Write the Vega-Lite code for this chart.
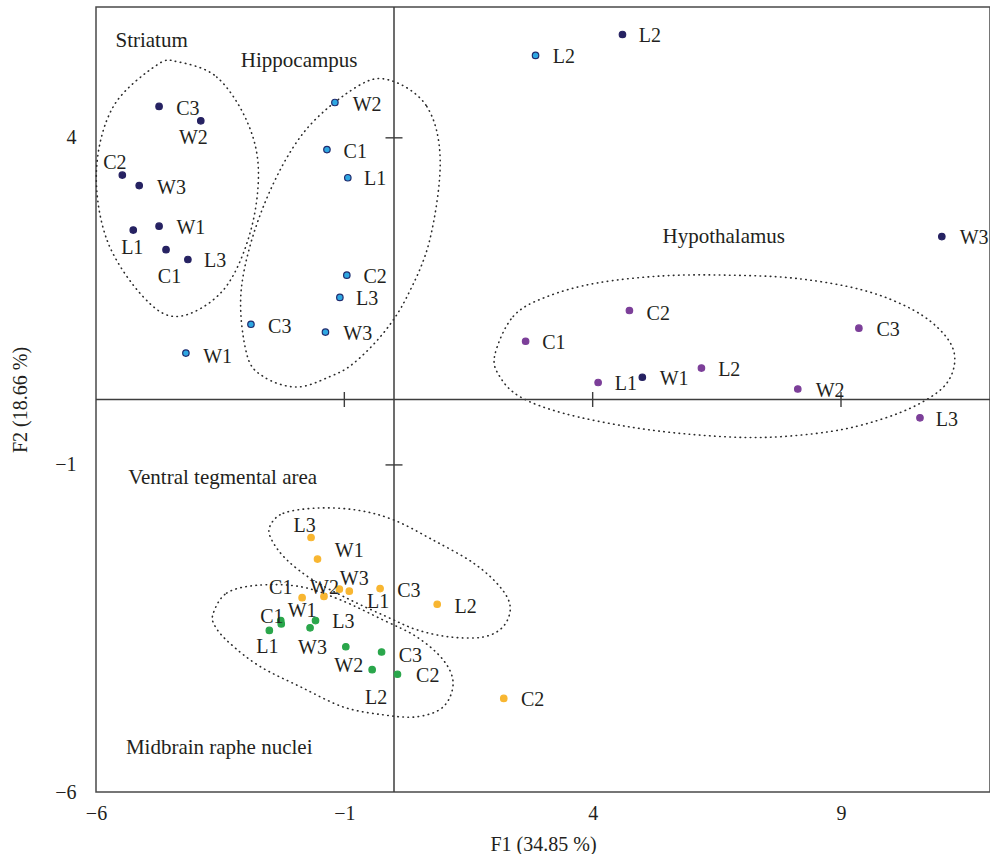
{
  "$schema": "https://vega.github.io/schema/vega-lite/v6.json",
  "width": 894,
  "height": 785,
  "autosize": {"type": "none"},
  "padding": {"left": 96, "top": 7, "right": 0, "bottom": 62},
  "background": "white",
  "config": {
    "view": {"stroke": "#4a4a4a", "strokeWidth": 1.5},
    "axis": {"domain": false, "ticks": false, "tickSize": 0, "grid": false, "labelFlush": false, "labelFont": "Liberation Serif", "labelFontSize": 20, "labelColor": "#231f20", "titleFont": "Liberation Serif", "titleFontSize": 20, "titleFontWeight": "normal", "titleColor": "#231f20"},
    "axisX": {"labelPadding": 11, "titlePadding": 11},
    "axisY": {"labelPadding": 20, "titlePadding": 24}
  },
  "datasets": {
    "points": [
      {"region": "Striatum", "cluster": "Striatum", "sample": "C3", "f1": -4.73, "f2": 4.48, "lx": -4.15, "ly": 4.44},
      {"region": "Striatum", "cluster": "Striatum", "sample": "W2", "f1": -3.89, "f2": 4.26, "lx": -4.04, "ly": 3.99},
      {"region": "Striatum", "cluster": "Striatum", "sample": "C2", "f1": -5.47, "f2": 3.43, "lx": -5.62, "ly": 3.61},
      {"region": "Striatum", "cluster": "Striatum", "sample": "W3", "f1": -5.13, "f2": 3.27, "lx": -4.48, "ly": 3.24},
      {"region": "Striatum", "cluster": "Striatum", "sample": "W1", "f1": -4.73, "f2": 2.65, "lx": -4.09, "ly": 2.62},
      {"region": "Striatum", "cluster": "Striatum", "sample": "L1", "f1": -5.25, "f2": 2.59, "lx": -5.27, "ly": 2.32},
      {"region": "Striatum", "cluster": "Striatum", "sample": "C1", "f1": -4.59, "f2": 2.29, "lx": -4.52, "ly": 1.88},
      {"region": "Striatum", "cluster": "Striatum", "sample": "L3", "f1": -4.15, "f2": 2.14, "lx": -3.60, "ly": 2.11},
      {"region": "Striatum", "cluster": "Striatum", "sample": "L2", "f1": 4.60, "f2": 5.58, "lx": 5.15, "ly": 5.55},
      {"region": "Hippocampus", "cluster": "Hippocampus", "sample": "W2", "f1": -1.19, "f2": 4.54, "lx": -0.54, "ly": 4.50},
      {"region": "Hippocampus", "cluster": "Hippocampus", "sample": "C1", "f1": -1.35, "f2": 3.82, "lx": -0.78, "ly": 3.79},
      {"region": "Hippocampus", "cluster": "Hippocampus", "sample": "L1", "f1": -0.93, "f2": 3.39, "lx": -0.38, "ly": 3.37},
      {"region": "Hippocampus", "cluster": "Hippocampus", "sample": "C2", "f1": -0.95, "f2": 1.90, "lx": -0.38, "ly": 1.87},
      {"region": "Hippocampus", "cluster": "Hippocampus", "sample": "L3", "f1": -1.09, "f2": 1.56, "lx": -0.54, "ly": 1.54},
      {"region": "Hippocampus", "cluster": "Hippocampus", "sample": "W3", "f1": -1.38, "f2": 1.03, "lx": -0.73, "ly": 1.00},
      {"region": "Hippocampus", "cluster": "Hippocampus", "sample": "C3", "f1": -2.88, "f2": 1.15, "lx": -2.30, "ly": 1.11},
      {"region": "Hippocampus", "cluster": "Hippocampus", "sample": "W1", "f1": -4.19, "f2": 0.71, "lx": -3.55, "ly": 0.65},
      {"region": "Hippocampus", "cluster": "Hippocampus", "sample": "L2", "f1": 2.85, "f2": 5.26, "lx": 3.42, "ly": 5.23},
      {"region": "Hypothalamus", "cluster": "Hypothalamus", "sample": "C2", "f1": 4.74, "f2": 1.36, "lx": 5.32, "ly": 1.31},
      {"region": "Hypothalamus", "cluster": "Hypothalamus", "sample": "C1", "f1": 2.65, "f2": 0.89, "lx": 3.22, "ly": 0.86},
      {"region": "Hypothalamus", "cluster": "Hypothalamus", "sample": "C3", "f1": 9.36, "f2": 1.09, "lx": 9.95, "ly": 1.06},
      {"region": "Hypothalamus", "cluster": "Hypothalamus", "sample": "L2", "f1": 6.19, "f2": 0.48, "lx": 6.75, "ly": 0.45},
      {"region": "Hypothalamus", "cluster": "Hypothalamus", "sample": "L1", "f1": 4.11, "f2": 0.26, "lx": 4.67, "ly": 0.24},
      {"region": "Hypothalamus", "cluster": "Hypothalamus", "sample": "W2", "f1": 8.13, "f2": 0.16, "lx": 8.78, "ly": 0.13},
      {"region": "Hypothalamus", "cluster": "Hypothalamus", "sample": "L3", "f1": 10.59, "f2": -0.28, "lx": 11.13, "ly": -0.31},
      {"region": "Hypothalamus", "cluster": "Hypothalamus (dark)", "sample": "W1", "f1": 5.00, "f2": 0.34, "lx": 5.64, "ly": 0.32},
      {"region": "Hypothalamus", "cluster": "Hypothalamus (dark)", "sample": "W3", "f1": 11.03, "f2": 2.49, "lx": 11.68, "ly": 2.47},
      {"region": "Ventral tegmental area", "cluster": "Ventral tegmental area", "sample": "L3", "f1": -1.67, "f2": -2.11, "lx": -1.80, "ly": -1.93},
      {"region": "Ventral tegmental area", "cluster": "Ventral tegmental area", "sample": "W1", "f1": -1.54, "f2": -2.44, "lx": -0.90, "ly": -2.31},
      {"region": "Ventral tegmental area", "cluster": "Ventral tegmental area", "sample": "C1", "f1": -1.85, "f2": -3.03, "lx": -2.28, "ly": -2.88},
      {"region": "Ventral tegmental area", "cluster": "Ventral tegmental area", "sample": "W2", "f1": -1.41, "f2": -3.01, "lx": -1.40, "ly": -2.88},
      {"region": "Ventral tegmental area", "cluster": "Ventral tegmental area", "sample": "L1", "f1": -1.10, "f2": -2.90, "lx": -0.32, "ly": -3.09},
      {"region": "Ventral tegmental area", "cluster": "Ventral tegmental area", "sample": "W3", "f1": -0.90, "f2": -2.93, "lx": -0.80, "ly": -2.75},
      {"region": "Ventral tegmental area", "cluster": "Ventral tegmental area", "sample": "C3", "f1": -0.28, "f2": -2.89, "lx": 0.30, "ly": -2.92},
      {"region": "Ventral tegmental area", "cluster": "Ventral tegmental area", "sample": "L2", "f1": 0.87, "f2": -3.13, "lx": 1.44, "ly": -3.17},
      {"region": "Ventral tegmental area", "cluster": "Ventral tegmental area", "sample": "C2", "f1": 2.21, "f2": -4.57, "lx": 2.79, "ly": -4.59},
      {"region": "Midbrain raphe nuclei", "cluster": "Midbrain raphe nuclei", "sample": "L1", "f1": -2.51, "f2": -3.53, "lx": -2.55, "ly": -3.78},
      {"region": "Midbrain raphe nuclei", "cluster": "Midbrain raphe nuclei", "sample": "C1", "f1": -2.28, "f2": -3.38, "lx": -2.46, "ly": -3.32},
      {"region": "Midbrain raphe nuclei", "cluster": "Midbrain raphe nuclei", "sample": "W1", "f1": -2.27, "f2": -3.43, "lx": -1.85, "ly": -3.24},
      {"region": "Midbrain raphe nuclei", "cluster": "Midbrain raphe nuclei", "sample": "L3", "f1": -1.58, "f2": -3.38, "lx": -1.02, "ly": -3.40},
      {"region": "Midbrain raphe nuclei", "cluster": "Midbrain raphe nuclei", "sample": "W3", "f1": -1.69, "f2": -3.49, "lx": -1.64, "ly": -3.80},
      {"region": "Midbrain raphe nuclei", "cluster": "Midbrain raphe nuclei", "sample": "W2", "f1": -0.97, "f2": -3.78, "lx": -0.91, "ly": -4.08},
      {"region": "Midbrain raphe nuclei", "cluster": "Midbrain raphe nuclei", "sample": "C3", "f1": -0.25, "f2": -3.86, "lx": 0.33, "ly": -3.92},
      {"region": "Midbrain raphe nuclei", "cluster": "Midbrain raphe nuclei", "sample": "L2", "f1": -0.44, "f2": -4.13, "lx": -0.36, "ly": -4.56},
      {"region": "Midbrain raphe nuclei", "cluster": "Midbrain raphe nuclei", "sample": "C2", "f1": 0.07, "f2": -4.20, "lx": 0.68, "ly": -4.23}
    ],
    "ellipses": [
      {"e": "Striatum", "i": 1, "ex": -4.34, "ey": 5.16},
      {"e": "Striatum", "i": 2, "ex": -3.57, "ey": 4.93},
      {"e": "Striatum", "i": 3, "ex": -2.97, "ey": 4.27},
      {"e": "Striatum", "i": 4, "ex": -2.73, "ey": 3.51},
      {"e": "Striatum", "i": 5, "ex": -2.90, "ey": 2.54},
      {"e": "Striatum", "i": 6, "ex": -3.44, "ey": 1.67},
      {"e": "Striatum", "i": 7, "ex": -4.34, "ey": 1.27},
      {"e": "Striatum", "i": 8, "ex": -5.05, "ey": 1.57},
      {"e": "Striatum", "i": 9, "ex": -5.78, "ey": 2.44},
      {"e": "Striatum", "i": 10, "ex": -5.99, "ey": 3.51},
      {"e": "Striatum", "i": 11, "ex": -5.65, "ey": 4.48},
      {"e": "Striatum", "i": 12, "ex": -4.78, "ey": 5.11},
      {"e": "Hippocampus", "i": 1, "ex": -0.08, "ey": 4.88},
      {"e": "Hippocampus", "i": 2, "ex": 0.66, "ey": 4.48},
      {"e": "Hippocampus", "i": 3, "ex": 0.93, "ey": 3.66},
      {"e": "Hippocampus", "i": 4, "ex": 0.72, "ey": 2.44},
      {"e": "Hippocampus", "i": 5, "ex": 0.26, "ey": 1.57},
      {"e": "Hippocampus", "i": 6, "ex": -0.22, "ey": 1.01},
      {"e": "Hippocampus", "i": 7, "ex": -0.82, "ey": 0.55},
      {"e": "Hippocampus", "i": 8, "ex": -1.29, "ey": 0.35},
      {"e": "Hippocampus", "i": 9, "ex": -1.96, "ey": 0.19},
      {"e": "Hippocampus", "i": 10, "ex": -2.63, "ey": 0.35},
      {"e": "Hippocampus", "i": 11, "ex": -2.97, "ey": 0.71},
      {"e": "Hippocampus", "i": 12, "ex": -3.07, "ey": 1.72},
      {"e": "Hippocampus", "i": 13, "ex": -2.63, "ey": 2.95},
      {"e": "Hippocampus", "i": 14, "ex": -1.83, "ey": 4.07},
      {"e": "Hippocampus", "i": 15, "ex": -0.75, "ey": 4.78},
      {"e": "Hypothalamus", "i": 1, "ex": 2.03, "ey": 0.68},
      {"e": "Hypothalamus", "i": 2, "ex": 2.40, "ey": 1.27},
      {"e": "Hypothalamus", "i": 3, "ex": 3.07, "ey": 1.57},
      {"e": "Hypothalamus", "i": 4, "ex": 4.08, "ey": 1.78},
      {"e": "Hypothalamus", "i": 5, "ex": 5.42, "ey": 1.89},
      {"e": "Hypothalamus", "i": 6, "ex": 6.76, "ey": 1.90},
      {"e": "Hypothalamus", "i": 7, "ex": 8.11, "ey": 1.85},
      {"e": "Hypothalamus", "i": 8, "ex": 9.45, "ey": 1.67},
      {"e": "Hypothalamus", "i": 9, "ex": 10.45, "ey": 1.37},
      {"e": "Hypothalamus", "i": 10, "ex": 11.06, "ey": 1.01},
      {"e": "Hypothalamus", "i": 11, "ex": 11.29, "ey": 0.65},
      {"e": "Hypothalamus", "i": 12, "ex": 11.13, "ey": 0.25},
      {"e": "Hypothalamus", "i": 13, "ex": 10.59, "ey": -0.06},
      {"e": "Hypothalamus", "i": 14, "ex": 9.78, "ey": -0.31},
      {"e": "Hypothalamus", "i": 15, "ex": 8.78, "ey": -0.49},
      {"e": "Hypothalamus", "i": 16, "ex": 7.43, "ey": -0.58},
      {"e": "Hypothalamus", "i": 17, "ex": 6.09, "ey": -0.54},
      {"e": "Hypothalamus", "i": 18, "ex": 4.75, "ey": -0.42},
      {"e": "Hypothalamus", "i": 19, "ex": 3.41, "ey": -0.21},
      {"e": "Hypothalamus", "i": 20, "ex": 2.54, "ey": 0.04},
      {"e": "Hypothalamus", "i": 21, "ex": 2.13, "ey": 0.35},
      {"e": "Ventral tegmental area", "i": 1, "ex": -2.50, "ey": -1.94},
      {"e": "Ventral tegmental area", "i": 2, "ex": -2.23, "ey": -1.74},
      {"e": "Ventral tegmental area", "i": 3, "ex": -1.56, "ey": -1.66},
      {"e": "Ventral tegmental area", "i": 4, "ex": -0.75, "ey": -1.69},
      {"e": "Ventral tegmental area", "i": 5, "ex": -0.01, "ey": -1.84},
      {"e": "Ventral tegmental area", "i": 6, "ex": 0.79, "ey": -2.15},
      {"e": "Ventral tegmental area", "i": 7, "ex": 1.60, "ey": -2.50},
      {"e": "Ventral tegmental area", "i": 8, "ex": 2.13, "ey": -2.86},
      {"e": "Ventral tegmental area", "i": 9, "ex": 2.34, "ey": -3.17},
      {"e": "Ventral tegmental area", "i": 10, "ex": 2.20, "ey": -3.47},
      {"e": "Ventral tegmental area", "i": 11, "ex": 1.80, "ey": -3.63},
      {"e": "Ventral tegmental area", "i": 12, "ex": 1.13, "ey": -3.63},
      {"e": "Ventral tegmental area", "i": 13, "ex": 0.46, "ey": -3.52},
      {"e": "Ventral tegmental area", "i": 14, "ex": -0.15, "ey": -3.32},
      {"e": "Ventral tegmental area", "i": 15, "ex": -0.89, "ey": -3.06},
      {"e": "Ventral tegmental area", "i": 16, "ex": -1.63, "ey": -2.76},
      {"e": "Ventral tegmental area", "i": 17, "ex": -2.16, "ey": -2.45},
      {"e": "Ventral tegmental area", "i": 18, "ex": -2.46, "ey": -2.15},
      {"e": "Midbrain raphe nuclei", "i": 1, "ex": -3.64, "ey": -3.27},
      {"e": "Midbrain raphe nuclei", "i": 2, "ex": -3.37, "ey": -2.96},
      {"e": "Midbrain raphe nuclei", "i": 3, "ex": -2.76, "ey": -2.84},
      {"e": "Midbrain raphe nuclei", "i": 4, "ex": -1.89, "ey": -2.86},
      {"e": "Midbrain raphe nuclei", "i": 5, "ex": -1.09, "ey": -3.06},
      {"e": "Midbrain raphe nuclei", "i": 6, "ex": -0.22, "ey": -3.37},
      {"e": "Midbrain raphe nuclei", "i": 7, "ex": 0.46, "ey": -3.63},
      {"e": "Midbrain raphe nuclei", "i": 8, "ex": 0.99, "ey": -3.98},
      {"e": "Midbrain raphe nuclei", "i": 9, "ex": 1.19, "ey": -4.34},
      {"e": "Midbrain raphe nuclei", "i": 10, "ex": 0.99, "ey": -4.70},
      {"e": "Midbrain raphe nuclei", "i": 11, "ex": 0.46, "ey": -4.85},
      {"e": "Midbrain raphe nuclei", "i": 12, "ex": -0.22, "ey": -4.82},
      {"e": "Midbrain raphe nuclei", "i": 13, "ex": -1.02, "ey": -4.70},
      {"e": "Midbrain raphe nuclei", "i": 14, "ex": -1.89, "ey": -4.39},
      {"e": "Midbrain raphe nuclei", "i": 15, "ex": -2.70, "ey": -4.08},
      {"e": "Midbrain raphe nuclei", "i": 16, "ex": -3.30, "ey": -3.73},
      {"e": "Midbrain raphe nuclei", "i": 17, "ex": -3.60, "ey": -3.47}
    ],
    "regions": [
      {"name": "Striatum", "tx": -4.88, "ty": 5.48},
      {"name": "Hippocampus", "tx": -1.91, "ty": 5.18},
      {"name": "Hypothalamus", "tx": 6.64, "ty": 2.49},
      {"name": "Ventral tegmental area", "tx": -3.45, "ty": -1.20},
      {"name": "Midbrain raphe nuclei", "tx": -3.52, "ty": -5.32}
    ],
    "origin": [{"v": 0}],
    "xticks": [{"v": -1}, {"v": 4}, {"v": 9}],
    "yticks": [{"v": 4}, {"v": -1}]
  },
  "layer": [
    {
      "data": {"name": "points"},
      "mark": {"type": "point", "opacity": 0, "size": 1},
      "encoding": {
        "x": {"field": "f1", "type": "quantitative", "title": "F1 (34.85 %)", "scale": {"domain": [-6, 12], "nice": false, "zero": false}, "axis": {"values": [-6, -1, 4, 9], "format": "d", "labelFlush": false}},
        "y": {"field": "f2", "type": "quantitative", "title": "F2 (18.66 %)", "scale": {"domain": [-6, 6], "nice": false, "zero": false}, "axis": {"values": [-6, -1, 4], "format": "d", "labelFlush": false}}
      }
    },
    {
      "data": {"name": "ellipses"},
      "mark": {"type": "line", "interpolate": "cardinal-closed", "strokeDash": [0.5, 4.6], "strokeWidth": 1.6, "strokeCap": "round", "color": "#2a2a2a"},
      "encoding": {
        "x": {"field": "ex", "type": "quantitative", "title": "F1 (34.85 %)", "scale": {"domain": [-6, 12], "nice": false, "zero": false}},
        "y": {"field": "ey", "type": "quantitative", "title": "F2 (18.66 %)", "scale": {"domain": [-6, 6], "nice": false, "zero": false}},
        "detail": {"field": "e"},
        "order": {"field": "i", "type": "quantitative"}
      }
    },
    {
      "data": {"name": "origin"},
      "mark": {"type": "rule", "color": "#3d3d3d", "strokeWidth": 1.5},
      "encoding": {"x": {"field": "v", "type": "quantitative", "title": "F1 (34.85 %)", "scale": {"domain": [-6, 12], "nice": false, "zero": false}}}
    },
    {
      "data": {"name": "origin"},
      "mark": {"type": "rule", "color": "#3d3d3d", "strokeWidth": 1.5},
      "encoding": {"y": {"field": "v", "type": "quantitative", "title": "F2 (18.66 %)", "scale": {"domain": [-6, 6], "nice": false, "zero": false}}}
    },
    {
      "data": {"name": "xticks"},
      "mark": {"type": "tick", "orient": "vertical", "size": 15, "thickness": 1.4, "color": "#3d3d3d", "opacity": 1},
      "encoding": {
        "x": {"field": "v", "type": "quantitative", "title": "F1 (34.85 %)", "scale": {"domain": [-6, 12], "nice": false, "zero": false}},
        "y": {"datum": 0}
      }
    },
    {
      "data": {"name": "yticks"},
      "mark": {"type": "tick", "orient": "horizontal", "size": 17, "thickness": 1.4, "color": "#3d3d3d", "opacity": 1},
      "encoding": {
        "y": {"field": "v", "type": "quantitative", "title": "F2 (18.66 %)", "scale": {"domain": [-6, 6], "nice": false, "zero": false}},
        "x": {"datum": 0}
      }
    },
    {
      "data": {"name": "points"},
      "mark": {"type": "point", "filled": true, "size": 42, "opacity": 1, "strokeWidth": 1.2},
      "encoding": {
        "x": {"field": "f1", "type": "quantitative", "title": "F1 (34.85 %)", "scale": {"domain": [-6, 12], "nice": false, "zero": false}},
        "y": {"field": "f2", "type": "quantitative", "title": "F2 (18.66 %)", "scale": {"domain": [-6, 6], "nice": false, "zero": false}},
        "fill": {"field": "cluster", "type": "nominal", "legend": null, "scale": {"domain": ["Striatum", "Hippocampus", "Hypothalamus", "Hypothalamus (dark)", "Ventral tegmental area", "Midbrain raphe nuclei"], "range": ["#262262", "#2ea7e2", "#7c3f99", "#262262", "#f8b631", "#2aa64b"]}},
        "stroke": {"field": "cluster", "type": "nominal", "legend": null, "scale": {"domain": ["Striatum", "Hippocampus", "Hypothalamus", "Hypothalamus (dark)", "Ventral tegmental area", "Midbrain raphe nuclei"], "range": ["#262262", "#1f2b6e", "#7c3f99", "#262262", "#f8b631", "#2aa64b"]}}
      }
    },
    {
      "data": {"name": "points"},
      "mark": {"type": "text", "font": "Liberation Serif", "fontSize": 20, "color": "#231f20", "align": "center", "baseline": "middle"},
      "encoding": {
        "x": {"field": "lx", "type": "quantitative", "title": "F1 (34.85 %)", "scale": {"domain": [-6, 12], "nice": false, "zero": false}},
        "y": {"field": "ly", "type": "quantitative", "title": "F2 (18.66 %)", "scale": {"domain": [-6, 6], "nice": false, "zero": false}},
        "text": {"field": "sample"}
      }
    },
    {
      "data": {"name": "regions"},
      "mark": {"type": "text", "font": "Liberation Serif", "fontSize": 21, "color": "#231f20", "align": "center", "baseline": "middle"},
      "encoding": {
        "x": {"field": "tx", "type": "quantitative", "title": "F1 (34.85 %)", "scale": {"domain": [-6, 12], "nice": false, "zero": false}},
        "y": {"field": "ty", "type": "quantitative", "title": "F2 (18.66 %)", "scale": {"domain": [-6, 6], "nice": false, "zero": false}},
        "text": {"field": "name"}
      }
    }
  ]
}
